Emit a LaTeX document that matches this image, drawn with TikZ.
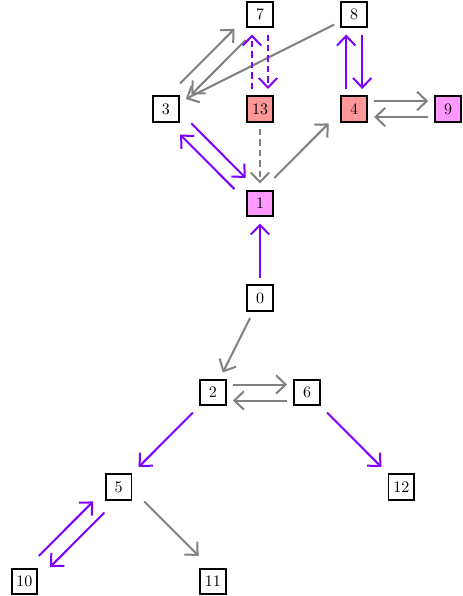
\documentclass[tikz,border=0pt]{standalone}
\usetikzlibrary{arrows.meta}
\definecolor{pur}{RGB}{127,0,255}
\definecolor{gr}{RGB}{128,128,128}
\definecolor{salmon}{RGB}{255,153,153}
\definecolor{pinkm}{RGB}{255,153,255}
\tikzset{
  nd/.style={draw, line width=1.2pt, minimum size=16pt, inner sep=0pt, outer sep=4.5pt, font=\normalsize},
  ed/.style={line width=1.25pt, -{Straight Barb[length=6pt,width=11.5pt]}},
  pe/.style={ed, draw=pur},
  ge/.style={ed, draw=gr},
  dsh/.style={dash pattern=on 4pt off 2.5pt},
  sU/.style={transform canvas={yshift=5pt}},
  sD/.style={transform canvas={yshift=-5pt}},
  sL/.style={transform canvas={xshift=-5pt}},
  sR/.style={transform canvas={xshift=5pt}},
  sUL/.style={transform canvas={xshift=-3.5pt,yshift=3.5pt}},
  sUR/.style={transform canvas={xshift=3.5pt,yshift=3.5pt}},
  sDL/.style={transform canvas={xshift=-3.5pt,yshift=-3.5pt}},
  sDR/.style={transform canvas={xshift=3.5pt,yshift=-3.5pt}},
}
\begin{document}
\begin{tikzpicture}[x=0.625pt, y=-0.625pt]
\useasboundingbox (0,0) rectangle (463,596);
\node[nd] (n7) at (260,14.5) {7};
\node[nd] (n8) at (354.2,14.5) {8};
\node[nd] (n3) at (165.8,109) {3};
\node[nd, fill=salmon] (n13) at (260,109) {13};
\node[nd, fill=salmon] (n4) at (354.2,109) {4};
\node[nd, fill=pinkm] (n9) at (448.2,109) {9};
\node[nd, fill=pinkm] (n1) at (260,203.5) {1};
\node[nd] (n0) at (260,298) {0};
\node[nd] (n2) at (212.9,392.5) {2};
\node[nd] (n6) at (307.1,392.5) {6};
\node[nd] (n5) at (118.7,487) {5};
\node[nd] (n12) at (401.3,487) {12};
\node[nd] (n10) at (24.5,581.5) {10};
\node[nd] (n11) at (212.9,581.5) {11};
% gray edges
\draw[ge, sUL] (n3) -- (n7);
\draw[ge, sDR] (n7) -- (n3);
\draw[ge] (n8) -- (n3);
\draw[ge, sUL] (n1) -- (n4);
\draw[ge, sU] (n4) -- (n9);
\draw[ge, sD] (n9) -- (n4);
\draw[ge] (n0) -- (n2);
\draw[ge, sU] (n2) -- (n6);
\draw[ge, sD] (n6) -- (n2);
\draw[ge, sUR] (n5) -- (n11);
\draw[ge, dsh] (n13) -- (n1);
% purple edges
\draw[pe, dsh, sL] (n13) -- (n7);
\draw[pe, dsh, sR] (n7) -- (n13);
\draw[pe, sL] (n4) -- (n8);
\draw[pe, sR] (n8) -- (n4);
\draw[pe, sUR] (n3) -- (n1);
\draw[pe, sDL] (n1) -- (n3);
\draw[pe] (n0) -- (n1);
\draw[pe] (n2) -- (n5);
\draw[pe] (n6) -- (n12);
\draw[pe, sUL] (n10) -- (n5);
\draw[pe, sDR] (n5) -- (n10);
\end{tikzpicture}
\end{document}
